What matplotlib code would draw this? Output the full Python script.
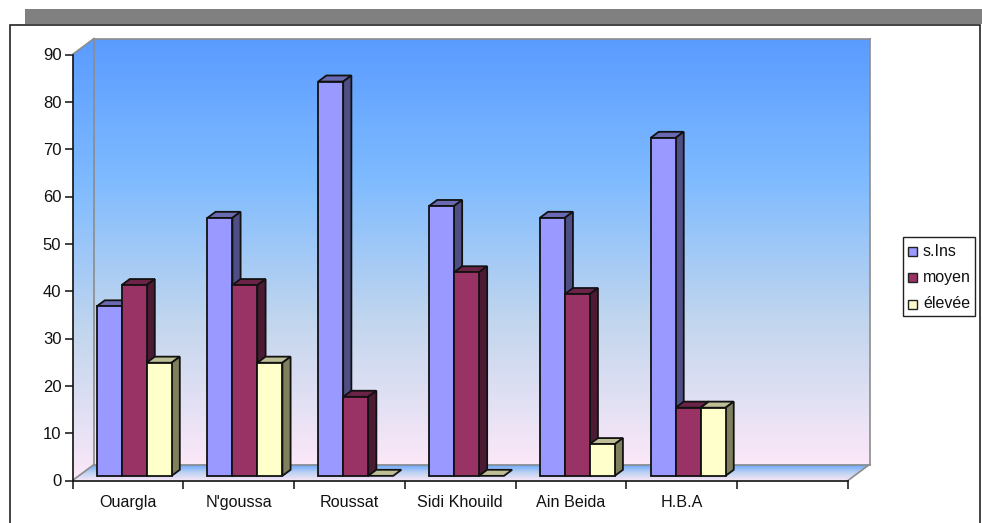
import numpy as np
import matplotlib
matplotlib.use("Agg")
import matplotlib.pyplot as plt
from matplotlib.colors import LinearSegmentedColormap
from matplotlib.patches import Polygon, Rectangle

plt.rcParams['font.family'] = ['Liberation Sans', 'DejaVu Sans']

categories = ["Ouargla", "N'goussa", "Roussat", "Sidi Khouild", "Ain Beida", "H.B.A", ""]
s_ins = [35.8, 54.5, 83.3, 57, 54.5, 71.4, None]
moyen = [40.3, 40.3, 16.7, 43, 38.4, 14.4, None]
elevee = [23.9, 23.9, 0, 0, 6.7, 14.4, None]
series_names = ["s.Ins", "moyen", "élevée"]
y_ticks = list(range(0, 100, 10))

face_colors = ["#9999FF", "#993366", "#FFFFCC"]
top_colors = ["#6A6AB2", "#6B2347", "#BDBD96"]
side_colors = ["#4F4F85", "#4D1A33", "#80805F"]

W, H = 982, 523
fig = plt.figure(figsize=(W / 100, H / 100), dpi=100, facecolor="white")

# Page-level frame and the grey band above it
page = fig.add_axes([0, 0, 1, 1], zorder=0)
page.set_xlim(0, W)
page.set_ylim(H, 0)
page.axis("off")
page.add_patch(Rectangle((25, 9), 957, 15, fc="#808080", ec="none"))
page.plot([10, 10, 980, 980], [H, 24.5, 24.5, H], color="#222222", lw=1.2, solid_joinstyle="miter")

# Front plane of the plot box: one unit across is a category, one unit up is a value
left, right, bottom, top = 72.5, 848.0, 480.5, 54.5
ax = fig.add_axes([left / W, 1 - bottom / H, (right - left) / W, (bottom - top) / H], zorder=1)
ax.patch.set_visible(False)
for name in ("top", "right"):
    ax.spines[name].set_visible(False)
for name in ("left", "bottom"):
    ax.spines[name].set_linewidth(1.2)
    ax.spines[name].set_color("#111111")
    ax.spines[name].set_zorder(60)

n = len(categories)
px_x = n / (right - left)
px_y = 90 / (bottom - top)


def project(x, y, depth):
    """Oblique projection: depth 1 is the back wall."""
    return x + depth * 21.5 * px_x, y + depth * 16 * px_y


def gradient(points, colors, zorder):
    """Fill a polygon with a vertical colour ramp."""
    cmap = LinearSegmentedColormap.from_list("ramp", colors)
    pts = np.array(points)
    ramp = np.linspace(0, 1, 256).reshape(-1, 1)
    im = ax.imshow(ramp, cmap=cmap, aspect="auto", zorder=zorder,
                   extent=[pts[:, 0].min(), pts[:, 0].max(), pts[:, 1].min(), pts[:, 1].max()],
                   interpolation="bilinear")
    # The ramp extends past the front plane, so it is limited by the polygon alone
    im.set_clip_box(fig.bbox)
    im.set_clip_path(Polygon(points, transform=ax.transData))


wall_colors = ["#5A9BFF", "#7FBBFF", "#C2D6EE", "#FBE8F8"]
# Back wall and left side wall
back = [project(0, 0, 1), project(n, 0, 1), project(n, 90, 1), project(0, 90, 1)]
gradient(back, wall_colors, 1)
side = [project(0, 0, 0), project(0, 0, 1), project(0, 90, 1), project(0, 90, 0)]
gradient(side, wall_colors, 1)
# Floor
floor = [project(0, 0, 0), project(n, 0, 0), project(n, 0, 1), project(0, 0, 1)]
gradient(floor, ["#5FA2FF", "#B9CFF2", "#F3E6F6"], 2)

wall_edge = "#8C8C8C"
for a, b in [(back[0], back[3]), (back[3], back[2]), (back[2], back[1]), (back[0], back[1]),
             (project(0, 90, 0), back[3]), (project(0, 0, 0), back[0]),
             (project(n, 0, 0), back[1])]:
    ax.plot([a[0], b[0]], [a[1], b[1]], color=wall_edge, lw=1.2, zorder=3, clip_on=False)

bar_w = 25 * px_x
front_d, back_d = 0.29, 0.67


def draw_bar(x0, value, idx, zorder):
    x1 = x0 + bar_w
    kw = dict(ec="#111111", lw=1.3, joinstyle="miter", clip_on=False, zorder=zorder)
    ax.add_patch(Polygon([project(x0, value, front_d), project(x1, value, front_d),
                          project(x1, value, back_d), project(x0, value, back_d)],
                         fc=top_colors[idx], **kw))
    if value > 0:
        ax.add_patch(Polygon([project(x1, 0, front_d), project(x1, 0, back_d),
                              project(x1, value, back_d), project(x1, value, front_d)],
                             fc=side_colors[idx], **kw))
        ax.add_patch(Polygon([project(x0, 0, front_d), project(x1, 0, front_d),
                              project(x1, value, front_d), project(x0, value, front_d)],
                             fc=face_colors[idx], **kw))


for i, group in enumerate(zip(s_ins, moyen, elevee)):
    for j, value in enumerate(group):
        if value is not None:
            draw_bar(i + 0.5 - 1.5 * bar_w + j * bar_w, value, j, 5 + i * 3 + j)

ax.set_xlim(0, n)
ax.set_ylim(0, 90)
ax.set_xticks(range(n + 1))
ax.set_xticklabels([""] * (n + 1))
ax.set_yticks(y_ticks)
ax.tick_params(axis="y", length=6, width=1.2, labelsize=12, pad=2, color="#222222", labelcolor="#111111")
ax.tick_params(axis="x", length=6, width=1.2, color="#222222")
for i, label in enumerate(categories):
    ax.text(i + 0.5, -0.035, label, transform=ax.get_xaxis_transform(), ha="center", va="top",
            fontsize=11.6, color="#111111")

# Legend box
overlay = fig.add_axes([0, 0, 1, 1], zorder=5)
overlay.set_xlim(0, W)
overlay.set_ylim(H, 0)
overlay.axis("off")
overlay.add_patch(Rectangle((903, 237), 72.5, 79, fc="white", ec="#222222", lw=1))
for k, (name, color) in enumerate(zip(series_names, face_colors)):
    y = 251 + k * 26.5
    overlay.add_patch(Rectangle((908.5, y - 4.5), 9, 9, fc=color, ec="#222222", lw=1))
    overlay.text(923, y, name, va="center", ha="left", fontsize=11.5, color="#111111")

fig.savefig("out.png", dpi=100)
